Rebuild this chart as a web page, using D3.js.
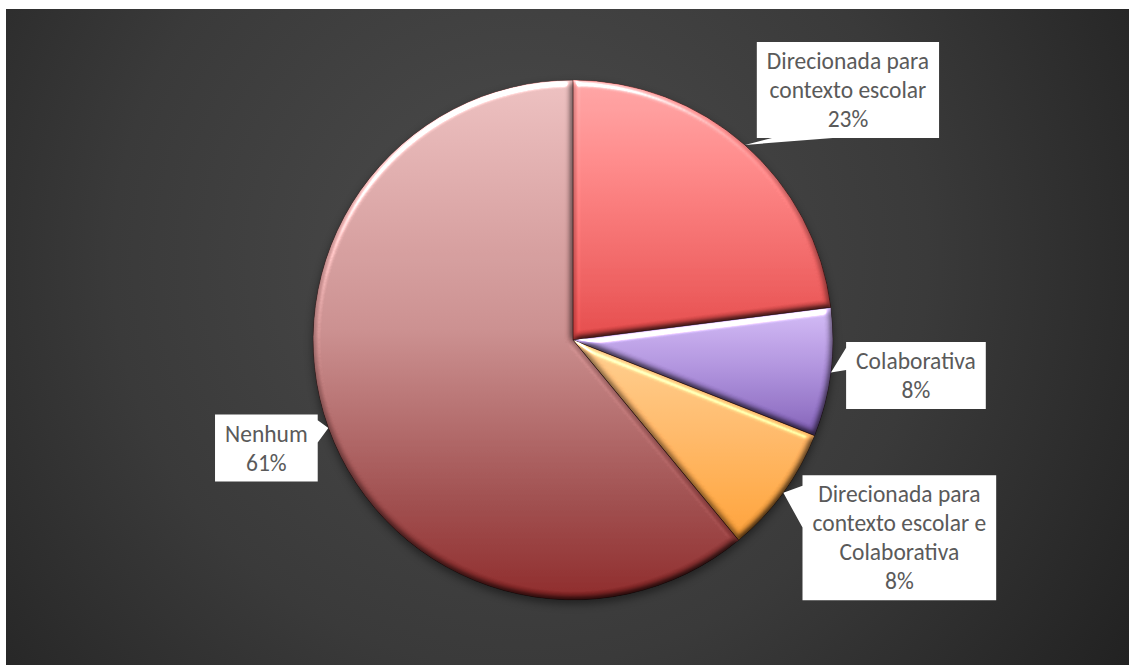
<!DOCTYPE html>
<html>
<head>
<meta charset="utf-8">
<script src="https://cdn.jsdelivr.net/npm/d3@7"></script>
<style>
  html, body { margin: 0; padding: 0; background: #ffffff; }
  svg { display: block; }
  .lbl { font-family: Carlito, Calibri, Lato, "Open Sans", sans-serif; fill: #5a5a5a; }
</style>
</head>
<body>
<svg id="chart" width="1129" height="665"></svg>
<script>
// Categories and their shares (percent of answers)
const categories = [
  "Direcionada para contexto escolar",
  "Colaborativa",
  "Direcionada para contexto escolar e Colaborativa",
  "Nenhum"
];
const values = [23, 8, 8, 61];

// Label text, broken into lines as shown in each callout
const labelLines = [
  ["Direcionada para", "contexto escolar"],
  ["Colaborativa"],
  ["Direcionada para", "contexto escolar e", "Colaborativa"],
  ["Nenhum"]
];

// Gradient fill of each slice, from top to bottom
const gradientStops = [0, 0.48, 0.8, 1];
const sliceColors = [
  ["#ffa0a0", "#f27474", "#e65858", "#dd4444"],
  ["#cdb6ef", "#a98bd6", "#8d6ec0", "#7a58ad"],
  ["#ffc98a", "#fdb262", "#f8a444", "#f59a35"],
  ["#e6baba", "#c48888", "#9a4a4a", "#862424"]
];

// Callout box centre, offset from the point where its pointer touches the pie
const calloutOffset = [[103, -55], [85, 3], [116, 45], [-62, 20]];

const W = 1129, H = 665;
const cx = 573, cy = 340, radius = 260;
const fontSize = 23.5, lineH = 29;

const svg = d3.select("#chart");
const defs = svg.append("defs");

// Dark radial backdrop
const bg = defs.append("radialGradient").attr("id", "bg")
  .attr("gradientUnits", "userSpaceOnUse")
  .attr("cx", 520).attr("cy", 260).attr("r", 740);
bg.append("stop").attr("offset", 0).attr("stop-color", "#4c4c4c");
bg.append("stop").attr("offset", 0.55).attr("stop-color", "#3a3a3a");
bg.append("stop").attr("offset", 1).attr("stop-color", "#212121");

svg.append("rect").attr("x", 6).attr("y", 9)
  .attr("width", W - 6).attr("height", H - 9)
  .attr("fill", "url(#bg)");

// Per-slice vertical gradients
values.forEach((v, i) => {
  const g = defs.append("linearGradient").attr("id", "slice" + i)
    .attr("x1", 0).attr("y1", 0).attr("x2", 0).attr("y2", 1);
  gradientStops.forEach((o, k) =>
    g.append("stop").attr("offset", o).attr("stop-color", sliceColors[i][k]));
});

// Soft bevel: specular highlight and diffuse shading from blurred alpha
const bevel = defs.append("filter").attr("id", "bevel")
  .attr("color-interpolation-filters", "sRGB")
  .attr("x", "-5%").attr("y", "-5%").attr("width", "110%").attr("height", "110%");
bevel.append("feGaussianBlur").attr("in", "SourceAlpha").attr("stdDeviation", 3).attr("result", "blur");
const spec = bevel.append("feSpecularLighting").attr("in", "blur")
  .attr("surfaceScale", 4).attr("specularConstant", 1.2)
  .attr("specularExponent", 35).attr("lighting-color", "#ffffff").attr("result", "spec");
spec.append("feDistantLight").attr("azimuth", 250).attr("elevation", 40);
bevel.append("feComposite").attr("in", "spec").attr("in2", "SourceAlpha")
  .attr("operator", "in").attr("result", "specIn");
const diff = bevel.append("feDiffuseLighting").attr("in", "blur")
  .attr("surfaceScale", 4).attr("diffuseConstant", 1)
  .attr("lighting-color", "#ffffff").attr("result", "diff");
diff.append("feDistantLight").attr("azimuth", 250).attr("elevation", 60);
bevel.append("feComposite").attr("in", "SourceGraphic").attr("in2", "diff")
  .attr("operator", "arithmetic").attr("k1", 1.15).attr("k2", 0).attr("k3", 0).attr("k4", 0)
  .attr("result", "lit");
bevel.append("feComposite").attr("in", "lit").attr("in2", "specIn")
  .attr("operator", "arithmetic").attr("k1", 0).attr("k2", 1).attr("k3", 0.85).attr("k4", 0)
  .attr("result", "out");
bevel.append("feComposite").attr("in", "out").attr("in2", "SourceAlpha").attr("operator", "in");

// Shadow under the whole pie
const shadow = defs.append("filter").attr("id", "shadow")
  .attr("color-interpolation-filters", "sRGB")
  .attr("x", "-10%").attr("y", "-10%").attr("width", "120%").attr("height", "125%");
shadow.append("feDropShadow").attr("dx", 0).attr("dy", 4).attr("stdDeviation", 4)
  .attr("flood-color", "#000").attr("flood-opacity", 0.45);

const pie = d3.pie().sort(null).value(d => d);
const arcs = pie(values);
const arc = d3.arc().innerRadius(0).outerRadius(radius);
const total = d3.sum(values);
const pct = d3.format(".0%");

const pieG = svg.append("g").attr("transform", `translate(${cx},${cy})`)
  .attr("filter", "url(#shadow)");

pieG.selectAll("path.slice").data(arcs).enter().append("path")
  .attr("class", "slice")
  .attr("d", arc)
  .attr("fill", (d, i) => `url(#slice${i})`)
  .attr("stroke", "rgba(40,10,10,0.55)")
  .attr("stroke-width", 1)
  .attr("stroke-linejoin", "round")
  .attr("filter", "url(#bevel)");

// Callout outline: rectangle with a wedge pointing at the slice
function calloutPath(x0, y0, w, h, tx, ty) {
  const x1 = x0 + w, y1 = y0 + h, mx = x0 + w / 2, my = y0 + h / 2;
  const dx = (tx - mx) / w, dy = (ty - my) / h;
  let pts;
  if (Math.abs(dx) > Math.abs(dy)) {
    const a = ty < my ? [y0 + h / 12, y0 + 5 * h / 12] : [y0 + 7 * h / 12, y0 + 11 * h / 12];
    if (dx < 0) {
      pts = [[x0, y0], [x1, y0], [x1, y1], [x0, y1], [x0, a[1]], [tx, ty], [x0, a[0]]];
    } else {
      pts = [[x0, y0], [x1, y0], [x1, a[0]], [tx, ty], [x1, a[1]], [x1, y1], [x0, y1]];
    }
  } else {
    const a = tx < mx ? [x0 + w / 12, x0 + 5 * w / 12] : [x0 + 7 * w / 12, x0 + 11 * w / 12];
    if (dy < 0) {
      pts = [[x0, y0], [a[0], y0], [tx, ty], [a[1], y0], [x1, y0], [x1, y1], [x0, y1]];
    } else {
      pts = [[x0, y0], [x1, y0], [x1, y1], [a[1], y1], [tx, ty], [a[0], y1], [x0, y1]];
    }
  }
  return "M" + pts.map(p => p.join(",")).join("L") + "Z";
}

const labelG = svg.append("g");
arcs.forEach((d, i) => {
  const mid = (d.startAngle + d.endAngle) / 2;
  const tx = cx + radius * Math.sin(mid);
  const ty = cy - radius * Math.cos(mid);
  const lines = labelLines[i].concat([pct(values[i] / total)]);

  const g = labelG.append("g");
  const box = g.append("path").attr("fill", "#ffffff");
  const texts = lines.map(t => g.append("text").attr("class", "lbl")
    .attr("font-size", fontSize).attr("text-anchor", "middle").text(t));
  const maxW = d3.max(texts, t => t.node().getComputedTextLength());
  const bw = maxW + 20, bh = lines.length * lineH + 9;
  const bcx = tx + calloutOffset[i][0], bcy = ty + calloutOffset[i][1];
  const x0 = bcx - bw / 2, y0 = bcy - bh / 2;
  box.attr("d", calloutPath(x0, y0, bw, bh, tx, ty));
  texts.forEach((t, k) => t.attr("x", bcx)
    .attr("y", y0 + 4.5 + lineH * k + lineH / 2 + fontSize * 0.34));
});
</script>
</body>
</html>
